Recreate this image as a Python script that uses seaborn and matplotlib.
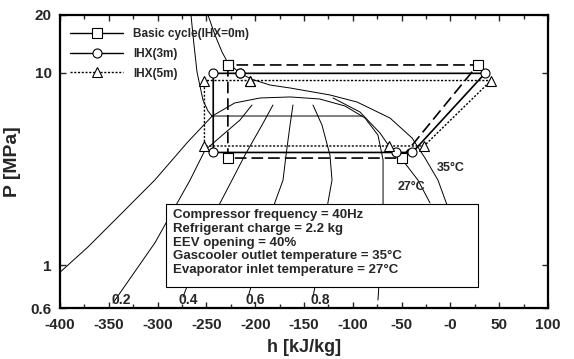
import matplotlib
matplotlib.use('Agg')
import matplotlib.pyplot as plt
import seaborn as sns
from matplotlib.ticker import FixedLocator, FixedFormatter, NullLocator, MultipleLocator
from matplotlib.patches import Rectangle
from matplotlib.lines import Line2D

sns.set_theme(style='ticks')
plt.rcParams['font.family'] = ['Liberation Sans', 'DejaVu Sans']
plt.rcParams['font.weight'] = 'bold'

# ---- cycle data (h [kJ/kg], P [MPa]) ----
basic_h = [-228, -228, -50, 28, -228]
basic_P = [11.0, 3.61, 3.61, 11.0, 11.0]
ihx3_h = [-216, -243, -243, -56, -39, 35.5, -216]
ihx3_P = [9.95, 9.95, 3.86, 3.86, 3.86, 9.95, 9.95]
ihx5_h = [-205, -252, -252, -63, -27, 41.6, -205]
ihx5_P = [9.13, 9.13, 4.17, 4.17, 4.17, 9.13, 9.13]

# ---- background property lines ----
dome_h = [-402, -400, -371, -336.5, -303, -269, -244, -221, -195, -164,
          -134, -108, -87.5, -74.2, -69, -69, -71, -74.2]
dome_P = [0.891, 0.92, 1.25, 1.87, 2.77, 4.38, 5.97, 6.98, 7.41, 7.50,
          7.32, 6.73, 5.83, 4.75, 3.53, 2.11, 1.20, 0.66]
q02_h = [-203.3, -215.6, -251.4, -266.8, -302.7, -345.7]
q02_P = [6.81, 5.69, 3.97, 2.77, 1.31, 0.637]
q04_h = [-181.8, -193, -210.5, -223.8, -238.1, -256.6, -274]
q04_P = [6.81, 5.36, 3.74, 2.77, 2.01, 1.17, 0.684]
q06_h = [-161.3, -164.3, -168.4, -171.5, -179.7, -193, -207.4]
q06_P = [6.81, 5.36, 3.74, 2.77, 2.13, 1.20, 0.684]
q08_h = [-140.8, -131.6, -123.4, -121.3, -125.4, -131.6, -140.8]
q08_P = [6.81, 5.36, 3.74, 2.77, 2.13, 1.20, 0.684]
t27liq_h = [-265.8, -262.7, -259.6, -253.5, -248.4, -244.3, -90]
t27liq_P = [20, 13.97, 10.1, 7.23, 6.34, 5.97, 5.97]
t27vap_h = [-120.3, -92.6, -72.1, -62.9, -54.7, -50.6, -33.2, -20.9]
t27vap_P = [7.41, 6.26, 4.87, 4.17, 3.86, 3.61, 2.77, 2.11]
t35_h = [-248.4, -241.2, -234, -227.9, -215.6, -204.3, -184.8, -164.3, -123.4,
         -95.7, -61.9, -39.3, -26, -12.7, -3.5]
t35_P = [20, 15.74, 12.85, 11.26, 9.99, 9.30, 8.65, 8.35, 7.68,
         7.06, 5.83, 4.59, 3.61, 2.77, 2.06]

quality_labels = ['0.2', '0.4', '0.6', '0.8']
quality_label_h = [-337.5, -269, -200, -133.5]

xtick_vals = [-400, -350, -300, -250, -200, -150, -100, -50, 0, 50, 100]
xtick_text = ['-400', '-350', '-300', '-250', '-200', '-150', '-100', '-50', '-0', '50', '100']
ytick_vals = [0.6, 1, 10, 20]
ytick_text = ['0.6', '1', '10', '20']

legend_labels = ['Basic cycle(IHX=0m)', 'IHX(3m)', 'IHX(5m)']

info_lines = ['Compressor frequency = 40Hz',
              'Refrigerant charge = 2.2 kg',
              'EEV opening = 40%',
              'Gascooler outlet temperature = 35\u00b0C',
              'Evaporator inlet temperature = 27\u00b0C']

fig = plt.figure(figsize=(5.74, 3.59), dpi=100)
ax = fig.add_axes([60/574, 1-308/359, 488/574, 293/359])
ax.set_yscale('log')

thin = dict(color='black', lw=0.7, sort=False, estimator=None, ax=ax, legend=False)
for hh, pp in [(dome_h, dome_P), (q02_h, q02_P), (q04_h, q04_P), (q06_h, q06_P),
               (q08_h, q08_P), (t27liq_h, t27liq_P), (t27vap_h, t27vap_P), (t35_h, t35_P)]:
    sns.lineplot(x=hh, y=pp, **thin)

mk = dict(markersize=6.5, markerfacecolor='white', markeredgecolor='black', markeredgewidth=0.8)
sns.lineplot(x=basic_h, y=basic_P, sort=False, estimator=None, ax=ax, color='black', lw=1.2,
             marker='s', legend=False, **mk)
ax.get_lines()[-1].set_linestyle((0, (7, 3)))
sns.lineplot(x=ihx3_h, y=ihx3_P, sort=False, estimator=None, ax=ax, color='black', lw=1.2,
             marker='o', legend=False, **mk)
sns.lineplot(x=ihx5_h, y=ihx5_P, sort=False, estimator=None, ax=ax, color='black', lw=1.0,
             marker='^', legend=False, **mk)
ax.get_lines()[-1].set_linestyle((0, (1.5, 1.2)))

ax.set_xlim(-400, 100)
ax.set_ylim(0.6, 20)
ax.xaxis.set_major_locator(FixedLocator(xtick_vals))
ax.xaxis.set_major_formatter(FixedFormatter(xtick_text))
ax.xaxis.set_minor_locator(MultipleLocator(25))
ax.yaxis.set_major_locator(FixedLocator(ytick_vals))
ax.yaxis.set_major_formatter(FixedFormatter(ytick_text))
ax.yaxis.set_minor_locator(NullLocator())
ax.tick_params(axis='both', which='both', direction='in', top=True, right=True, labelsize=11, width=1)
ax.tick_params(axis='both', which='major', length=4)
ax.tick_params(axis='both', which='minor', length=3)
ax.tick_params(axis='x', which='major', pad=7)
ax.tick_params(axis='y', which='major', pad=6)
for lab in ax.get_xticklabels() + ax.get_yticklabels():
    lab.set_fontweight('bold')
for s in ax.spines.values():
    s.set_linewidth(1.6)
    s.set_color('black')

ax.set_xlabel('h [kJ/kg]', fontsize=13, fontweight='bold', labelpad=5)
ax.set_ylabel('P [MPa]', fontsize=14, fontweight='bold', labelpad=7)

handles = [
    Line2D([], [], color='black', lw=1.0, marker='s', **mk),
    Line2D([], [], color='black', lw=1.0, marker='o', **mk),
    Line2D([], [], color='black', lw=1.0, marker='^', linestyle=(0, (1.5, 1.2)), **mk),
]
leg = ax.legend(handles, legend_labels, loc='upper left', bbox_to_anchor=(10/488, 0.955),
                frameon=False, fontsize=8.5, handlelength=4.5, handletextpad=0.85,
                labelspacing=0.65, borderpad=0, borderaxespad=0)
for t in leg.get_texts():
    t.set_fontweight('bold')

# info box
ax.add_patch(Rectangle((106/488, 21/293), 312/488, 83/293, transform=ax.transAxes,
                       facecolor='white', edgecolor='black', lw=0.8, zorder=5))
ax.text(113/488, 99/293, '\n'.join(info_lines), transform=ax.transAxes, fontsize=9.5,
        fontweight='bold', va='top', ha='left', linespacing=1.2, zorder=6)

for lab, hq in zip(quality_labels, quality_label_h):
    ax.text(hq, 0.66, lab, fontsize=10, fontweight='bold', ha='center', va='center')
ax.text(-13.7, 3.21, '35\u00b0C', fontsize=9, fontweight='bold', ha='left', va='center')
ax.text(-53.7, 2.55, '27\u00b0C', fontsize=9, fontweight='bold', ha='left', va='center')

fig.savefig('out.png', dpi=100)
